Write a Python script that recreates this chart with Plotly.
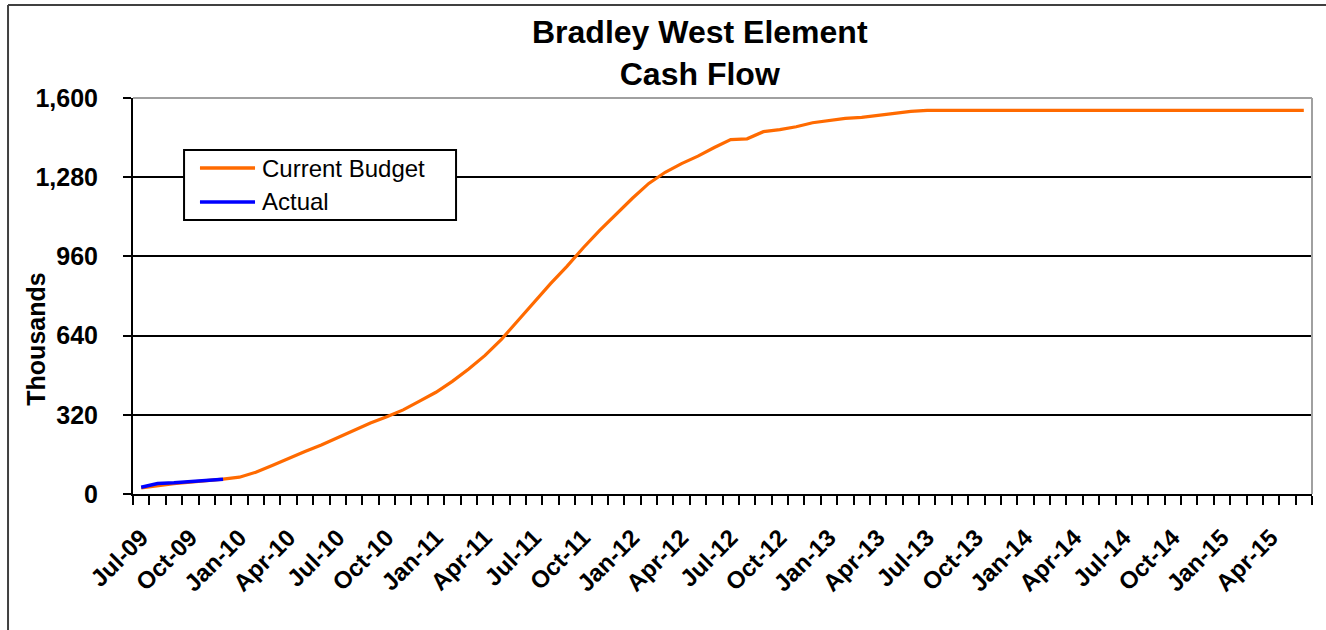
import pandas as pd
import plotly.graph_objects as go

# monthly categories Jul-09 .. Jun-15
months = list(pd.date_range("2009-07-01", "2015-06-01", freq="MS").strftime("%b-%y"))

# cumulative cash flow, thousands
current_budget = [
    25, 35, 42, 48, 53, 60,
    68, 88, 115, 145, 172, 198,
    228, 257, 287, 312, 340, 375,
    411, 455, 505, 560, 625, 700,
    775, 850, 920, 995, 1065, 1132,
    1195, 1255, 1300, 1335, 1365, 1400,
    1432, 1435, 1464, 1472, 1484, 1500,
    1510, 1518, 1522, 1530, 1537, 1546,
    1550, 1550, 1550, 1550, 1550, 1550,
    1550, 1550, 1550, 1550, 1550, 1550,
    1550, 1550, 1550, 1550, 1550, 1550,
    1550, 1550, 1550, 1550, 1550, 1550,
]
actual = [27, 42, 45, 50, 55, 60]

y_ticks = [0, 320, 640, 960, 1280, 1600]
x_labels = months[::3]  # Jul-09, Oct-09, ...

FONT = "Liberation Sans, Arial, sans-serif"
ORANGE = "#FF6A00"
BLUE = "#0000FF"

fig = go.Figure()
fig.add_trace(go.Scatter(
    x=list(range(len(current_budget))), y=current_budget,
    mode="lines", name="Current Budget",
    line=dict(color=ORANGE, width=3.2),
))
fig.add_trace(go.Scatter(
    x=list(range(len(actual))), y=actual,
    mode="lines", name="Actual",
    line=dict(color=BLUE, width=3.5),
))

fig.update_layout(
    width=1326, height=630,
    margin=dict(l=133, r=14, t=98, b=136, autoexpand=False),
    paper_bgcolor="white", plot_bgcolor="white",
    font=dict(family=FONT, color="black"),
    showlegend=False,
)

fig.update_xaxes(
    range=[-0.5, len(months) - 0.5],
    automargin=False,
    tickmode="array",
    tickvals=list(range(0, len(months), 3)),
    ticktext=x_labels,
    tickangle=-45,
    ticks="", ticklabelstandoff=18,
    tickfont=dict(size=24, family=FONT, color="black", weight="bold"),
    showgrid=False, zeroline=False,
    showline=True, linecolor="black", linewidth=2,
    minor=dict(tickmode="linear", tick0=-0.5, dtick=1, ticks="outside",
               ticklen=9, tickwidth=2, tickcolor="black", showgrid=False),
)

fig.update_yaxes(
    range=[0, 1600],
    automargin=False,
    tickmode="array", tickvals=y_ticks,
    tickformat=",d",
    ticks="outside", ticklen=8, tickwidth=2, tickcolor="black",
    ticklabelstandoff=20,
    tickfont=dict(size=25, family=FONT, color="black", weight="bold"),
    showgrid=True, gridcolor="black", gridwidth=1.5,
    zeroline=False,
    showline=True, linecolor="black", linewidth=2,
)

# title
fig.add_annotation(
    text="<b>Bradley West Element<br>Cash Flow</b>",
    xref="paper", yref="paper", x=0.481, y=1.1136,
    xanchor="center", yanchor="middle", showarrow=False,
    font=dict(size=32, family=FONT, color="black"),
)

# y-axis title
fig.add_annotation(
    text="<b>Thousands</b>", textangle=-90,
    xref="paper", yref="paper", x=-0.083, y=0.39,
    xanchor="center", yanchor="middle",
    showarrow=False, font=dict(size=25, family=FONT, color="black"),
)

# legend box drawn by hand to match the Excel legend
fig.add_shape(type="rect", xref="paper", yref="paper",
              x0=0.0433, x1=0.2740, y0=0.6919, y1=0.8687,
              fillcolor="white", line=dict(color="black", width=2), layer="above")
for name, color, yy in [("Current Budget", ORANGE, 0.8232), ("Actual", BLUE, 0.7374)]:
    fig.add_shape(type="line", xref="paper", yref="paper",
                  x0=0.0568, x1=0.1035, y0=yy, y1=yy,
                  line=dict(color=color, width=3.5), layer="above")
    fig.add_annotation(text=name, xref="paper", yref="paper",
                       x=0.1077, y=yy, xanchor="left", yanchor="middle",
                       showarrow=False,
                       font=dict(size=24, family=FONT, color="black"))

# grey plot-area border (top and right)
fig.add_shape(type="line", xref="paper", yref="paper", x0=0, x1=1, y0=1, y1=1,
              line=dict(color="#A0A0A0", width=2), layer="above")
fig.add_shape(type="line", xref="paper", yref="paper", x0=1, x1=1, y0=0, y1=1,
              line=dict(color="#A0A0A0", width=2), layer="above")
# outer chart frame: only top and left edges fall inside the picture
fig.add_shape(type="line", xref="paper", yref="paper",
              x0=-0.106, x1=1.2, y0=1.2348, y1=1.2348,
              line=dict(color="#404040", width=2), layer="above")
fig.add_shape(type="line", xref="paper", yref="paper",
              x0=-0.106, x1=-0.106, y0=-0.6, y1=1.2348,
              line=dict(color="#404040", width=2), layer="above")

# drop the browser's default body margin so the figure sits at the page origin
fig.write_html("out.html", config={"displayModeBar": False},
               post_script="document.body.style.margin='0px';")
